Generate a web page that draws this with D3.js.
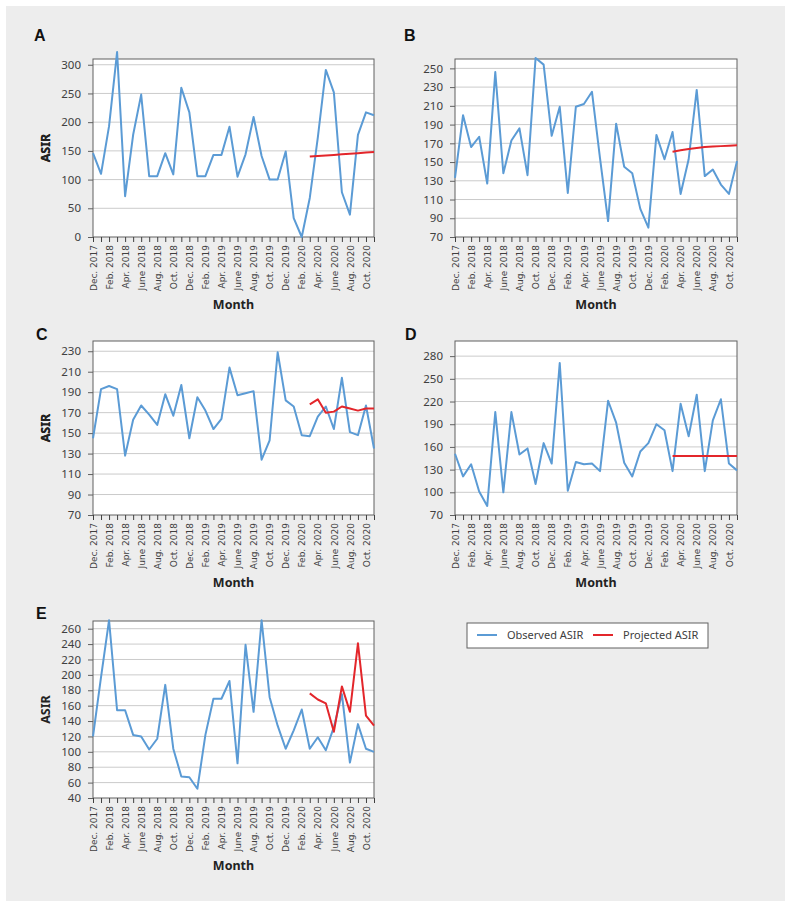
<!DOCTYPE html>
<html>
<head>
<meta charset="utf-8">
<script src="https://cdn.jsdelivr.net/npm/d3@7"></script>
<style>
    body { margin: 0; background: #fff; }
    .yAxis text { font-family: "Noto Sans", sans-serif; font-size: 11.5px; fill: #404040; }
    .xAxis text { font-family: "DejaVu Sans", sans-serif; font-size: 9px; fill: #404040; }
    .axisText { font-family: "Noto Sans", sans-serif; font-weight: bold; font-size: 12.5px; fill: #222; }
    .panelLetter { font-family: "Liberation Sans", Arial, sans-serif; font-weight: bold; font-size: 16px; fill: #111; }
    .legendText { font-family: "Noto Sans", sans-serif; font-size: 11px; fill: #404040; }
</style>
</head>
<body>
<div id="chart"></div>
<script>
// months on the x axis (every month), only every second one gets a label
var months = ["Dec. 2017", "Jan. 2018", "Feb. 2018", "Mar. 2018", "Apr. 2018", "May 2018",
    "June 2018", "July 2018", "Aug. 2018", "Sep. 2018", "Oct. 2018", "Nov. 2018",
    "Dec. 2018", "Jan. 2019", "Feb. 2019", "Mar. 2019", "Apr. 2019", "May 2019",
    "June 2019", "July 2019", "Aug. 2019", "Sep. 2019", "Oct. 2019", "Nov. 2019",
    "Dec. 2019", "Jan. 2020", "Feb. 2020", "Mar. 2020", "Apr. 2020", "May 2020",
    "June 2020", "July 2020", "Aug. 2020", "Sep. 2020", "Oct. 2020", "Nov. 2020"];

var tickLabels = ["Dec. 2017", "Feb. 2018", "Apr. 2018", "June 2018", "Aug. 2018", "Oct. 2018",
    "Dec. 2018", "Feb. 2019", "Apr. 2019", "June 2019", "Aug. 2019", "Oct. 2019",
    "Dec. 2019", "Feb. 2020", "Apr. 2020", "June 2020", "Aug. 2020", "Oct. 2020"];

// projected series run Mar. 2020 - Nov. 2020
var projMonths = ["Mar. 2020", "Apr. 2020", "May 2020", "June 2020", "July 2020",
    "Aug. 2020", "Sep. 2020", "Oct. 2020", "Nov. 2020"];

// observed ASIR
var obsA = [146, 110, 193, 322, 71, 178, 248, 106, 106, 146, 109, 260, 217, 106, 106, 143, 143, 192,
    105, 144, 209, 141, 100, 100, 149, 33, 0, 68, 173, 291, 252, 78, 39, 178, 217, 212];
var obsB = [133, 200, 166, 177, 127, 246, 138, 173, 186, 136, 261, 254, 178, 209, 117, 209, 212, 225,
    154, 87, 191, 145, 138, 100, 80, 179, 153, 182, 116, 153, 227, 135, 142, 126, 116, 151];
var obsC = [145, 193, 196, 193, 128, 163, 177, 168, 158, 188, 167, 197, 145, 185, 172, 154, 164, 214,
    187, 189, 191, 124, 143, 229, 182, 176, 148, 147, 166, 176, 154, 204, 151, 148, 177, 135];
var obsD = [151, 121, 137, 101, 82, 206, 100, 206, 150, 158, 111, 165, 138, 271, 102, 140, 137, 138,
    128, 221, 192, 139, 121, 154, 165, 190, 182, 128, 217, 174, 229, 128, 195, 223, 138, 129];
var obsE = [120, 197, 271, 154, 154, 122, 120, 103, 117, 187, 104, 68, 67, 52, 122, 169, 169, 192,
    85, 239, 152, 271, 171, 134, 104, 128, 155, 104, 119, 102, 132, 175, 86, 136, 104, 100];

// projected ASIR
var projA = [140, 141, 142, 143, 144, 145, 146, 147, 148];
var projB = [161, 162.5, 164, 165, 166, 166.5, 167, 167.5, 168];
var projC = [178, 183, 170, 171, 176, 174, 172, 174, 174];
var projD = [148, 148, 148, 148, 148, 148, 148, 148, 148];
var projE = [176, 168, 163, 126, 185, 152, 241, 147, 134];

// y ticks per panel
var ticksA = [0, 50, 100, 150, 200, 250, 300];
var ticksB = [70, 90, 110, 130, 150, 170, 190, 210, 230, 250];
var ticksC = [70, 90, 110, 130, 150, 170, 190, 210, 230];
var ticksD = [70, 100, 130, 160, 190, 220, 250, 280];
var ticksE = [40, 60, 80, 100, 120, 140, 160, 180, 200, 220, 240, 260];

var blue = "#5b9bd5";
var red = "#e3262b";

// 1) canvas
var svg = d3.select("#chart")
    .append("svg")
    .attr("width", 791)
    .attr("height", 909);

svg.append("rect")
    .attr("x", 6)
    .attr("y", 6)
    .attr("width", 779)
    .attr("height", 895)
    .attr("fill", "#ededed");

// 2) panels
var panels = [
    { letter: "A", obs: obsA, proj: projA, ticks: ticksA, domain: [0, 310], left: 93, top: 59, width: 281, height: 178, lx: 34, ly: 41 },
    { letter: "B", obs: obsB, proj: projB, ticks: ticksB, domain: [70, 260], left: 455, top: 59, width: 282, height: 178, lx: 404, ly: 41 },
    { letter: "C", obs: obsC, proj: projC, ticks: ticksC, domain: [70, 240], left: 93, top: 341, width: 281, height: 174, lx: 36, ly: 340 },
    { letter: "D", obs: obsD, proj: projD, ticks: ticksD, domain: [70, 300], left: 455, top: 341, width: 282, height: 174, lx: 405, ly: 340 },
    { letter: "E", obs: obsE, proj: projE, ticks: ticksE, domain: [40, 270], left: 93, top: 621, width: 281, height: 177, lx: 36, ly: 619 }
];

panels.forEach(function(p) {
    drawPanel(p);
});

function drawPanel(p) {
    svg.append("text")
        .attr("x", p.lx)
        .attr("y", p.ly)
        .attr("class", "panelLetter")
        .text(p.letter);

    var chartGroup = svg.append("g")
        .attr("transform", `translate(${p.left}, ${p.top})`);

    // scales
    var xScale = d3.scalePoint()
        .domain(months)
        .range([0, p.width]);

    var yScale = d3.scaleLinear()
        .domain(p.domain)
        .range([p.height, 0]);

    // plot area + gridlines
    chartGroup.append("rect")
        .attr("width", p.width)
        .attr("height", p.height)
        .attr("fill", "#fff");

    chartGroup.append("g")
        .selectAll("line")
        .data(p.ticks.slice(1))
        .enter()
        .append("line")
        .attr("x1", 0)
        .attr("x2", p.width)
        .attr("y1", d => yScale(d))
        .attr("y2", d => yScale(d))
        .attr("stroke", "#cbcbcb")
        .attr("stroke-width", 1);

    chartGroup.append("rect")
        .attr("width", p.width)
        .attr("height", p.height)
        .attr("fill", "none")
        .attr("stroke", "#606060")
        .attr("stroke-width", 1);

    // axes
    var left_axis = d3.axisLeft(yScale)
        .tickValues(p.ticks)
        .tickSize(5)
        .tickPadding(7);

    var bottom_axis = d3.axisBottom(xScale)
        .tickSize(5)
        .tickFormat(d => tickLabels.includes(d) ? d : "");

    var yAxisGrp = chartGroup.append("g")
        .attr("class", "yAxis")
        .call(left_axis);
    yAxisGrp.select(".domain").remove();
    yAxisGrp.selectAll("line").attr("stroke", "#606060");

    var xAxisGrp = chartGroup.append("g")
        .attr("class", "xAxis")
        .attr("transform", `translate(0, ${p.height})`)
        .call(bottom_axis);
    xAxisGrp.select(".domain").remove();
    xAxisGrp.selectAll("line").attr("stroke", "#404040");
    xAxisGrp.selectAll("text")
        .attr("transform", "rotate(-90)")
        .attr("x", -8)
        .attr("y", 0)
        .attr("dy", "0.35em")
        .style("text-anchor", "end");

    // lines
    var obsLine = d3.line()
        .x((d, i) => xScale(months[i]))
        .y(d => yScale(d));

    var projLine = d3.line()
        .x((d, i) => xScale(projMonths[i]))
        .y(d => yScale(d));

    chartGroup.append("path")
        .datum(p.obs)
        .attr("d", obsLine)
        .attr("fill", "none")
        .attr("stroke", blue)
        .attr("stroke-width", 2)
        .attr("stroke-linejoin", "round");

    chartGroup.append("path")
        .datum(p.proj)
        .attr("d", projLine)
        .attr("fill", "none")
        .attr("stroke", red)
        .attr("stroke-width", 2)
        .attr("stroke-linejoin", "round");

    // axis titles
    chartGroup.append("text")
        .attr("transform", "rotate(-90)")
        .attr("x", -p.height / 2)
        .attr("y", 0 - (p.left - 46))
        .attr("dy", "0.35em")
        .attr("class", "axisText")
        .style("text-anchor", "middle")
        .text("ASIR");

    chartGroup.append("text")
        .attr("x", p.width / 2)
        .attr("y", p.height + 72)
        .attr("class", "axisText")
        .style("text-anchor", "middle")
        .text("Month");
}

// 3) legend
var legend = svg.append("g")
    .attr("transform", "translate(467, 623)");

legend.append("rect")
    .attr("width", 241)
    .attr("height", 25)
    .attr("fill", "#fff")
    .attr("stroke", "#606060");

var legendItems = [
    { label: "Observed ASIR", color: blue, x: 10 },
    { label: "Projected ASIR", color: red, x: 126 }
];

legend.selectAll("line")
    .data(legendItems)
    .enter()
    .append("line")
    .attr("x1", d => d.x)
    .attr("x2", d => d.x + 20)
    .attr("y1", 12)
    .attr("y2", 12)
    .attr("stroke", d => d.color)
    .attr("stroke-width", 2);

legend.selectAll("text")
    .data(legendItems)
    .enter()
    .append("text")
    .attr("x", d => d.x + 30)
    .attr("y", 12)
    .attr("dy", "0.35em")
    .attr("class", "legendText")
    .text(d => d.label);
</script>
</body>
</html>
